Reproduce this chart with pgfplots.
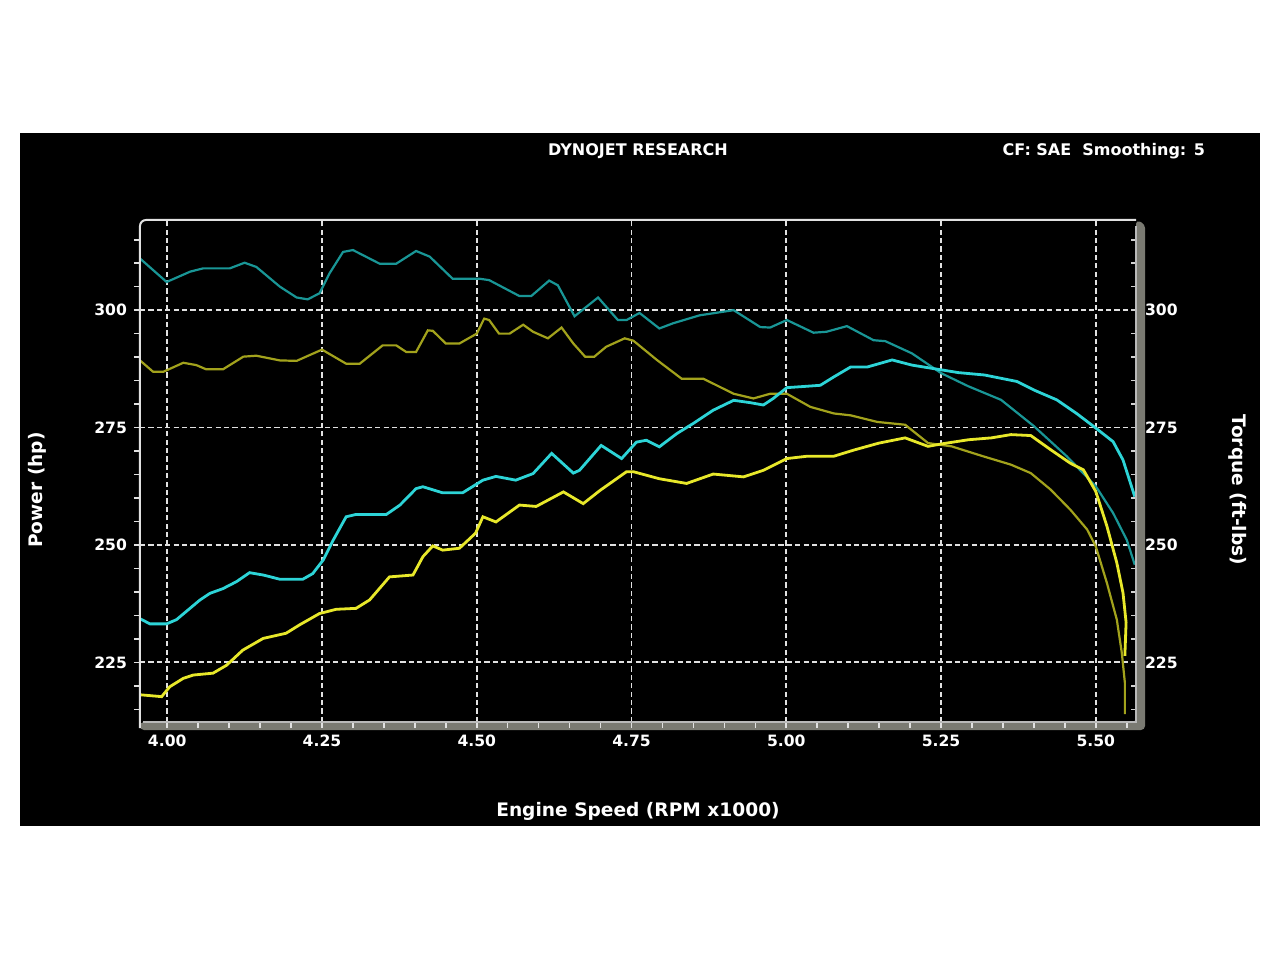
\documentclass[border=0pt]{standalone}
\usepackage{fontspec}
\setmainfont{DejaVu Sans}
\usepackage{pgfplots}
\pgfplotsset{compat=1.18}
\definecolor{darkteal}{RGB}{25,150,150}
\definecolor{brightcyan}{RGB}{45,212,215}
\definecolor{olivec}{RGB}{162,162,28}
\definecolor{brightyel}{RGB}{232,232,42}
\definecolor{bargray}{RGB}{122,122,114}
\definecolor{gridc}{RGB}{225,225,225}

\pgfplotstableread{
x y
3.956 311.0
3.999 306.0
4.037 308.2
4.058 308.9
4.101 308.9
4.125 310.1
4.144 309.2
4.182 305.0
4.209 302.7
4.227 302.3
4.246 303.6
4.262 307.8
4.284 312.4
4.300 312.8
4.343 309.9
4.370 309.9
4.402 312.6
4.424 311.4
4.461 306.7
4.504 306.7
4.520 306.4
4.569 303.0
4.588 303.0
4.617 306.3
4.631 305.3
4.658 298.7
4.696 302.7
4.728 297.9
4.742 297.9
4.763 299.4
4.795 296.1
4.817 297.2
4.860 298.9
4.915 300.0
4.958 296.4
4.974 296.3
5.001 297.9
5.044 295.2
5.065 295.4
5.098 296.6
5.141 293.6
5.160 293.4
5.203 290.8
5.250 286.6
5.294 283.8
5.347 280.9
5.400 275.3
5.453 268.9
5.500 262.5
5.528 256.8
5.550 251.1
5.563 245.8
}\tealdata

\pgfplotstableread{
x y
3.956 289.3
3.977 286.9
3.994 286.9
4.026 288.8
4.047 288.3
4.063 287.4
4.090 287.4
4.123 290.1
4.144 290.3
4.182 289.3
4.209 289.2
4.250 291.6
4.289 288.6
4.311 288.6
4.348 292.5
4.370 292.5
4.386 291.1
4.402 291.1
4.421 295.7
4.429 295.6
4.450 292.9
4.472 292.9
4.500 295.0
4.512 298.2
4.520 297.9
4.536 295.0
4.553 295.0
4.575 296.9
4.591 295.4
4.615 294.0
4.637 296.3
4.656 292.9
4.675 290.1
4.690 290.1
4.709 292.2
4.739 294.0
4.753 293.5
4.791 289.4
4.831 285.4
4.866 285.4
4.915 282.2
4.947 281.2
4.974 282.2
5.001 282.2
5.039 279.4
5.077 278.0
5.104 277.6
5.147 276.2
5.192 275.6
5.229 271.7
5.250 271.3
5.267 271.0
5.320 268.8
5.363 267.1
5.395 265.3
5.427 261.8
5.459 257.5
5.486 253.3
5.500 249.7
5.518 241.9
5.534 234.1
5.542 227.1
5.547 220.7
5.547 214.0
}\olivedata

\pgfplotstableread{
x y
3.956 234.3
3.972 233.2
3.999 233.2
4.015 234.1
4.053 238.3
4.069 239.7
4.090 240.7
4.112 242.2
4.133 244.1
4.155 243.6
4.182 242.7
4.219 242.7
4.235 243.9
4.252 246.8
4.268 251.0
4.289 256.0
4.305 256.5
4.354 256.5
4.376 258.5
4.402 262.0
4.413 262.4
4.445 261.1
4.477 261.1
4.510 263.8
4.531 264.6
4.563 263.8
4.591 265.2
4.621 269.5
4.656 265.3
4.666 265.9
4.701 271.2
4.734 268.4
4.758 271.9
4.774 272.3
4.795 270.9
4.823 273.7
4.850 275.9
4.882 278.7
4.915 280.8
4.942 280.3
4.963 279.8
4.979 281.2
5.001 283.5
5.023 283.7
5.055 284.0
5.077 285.8
5.104 287.9
5.131 287.9
5.171 289.4
5.203 288.3
5.250 287.3
5.278 286.7
5.320 286.2
5.373 284.8
5.400 283.0
5.437 280.9
5.469 278.0
5.500 274.9
5.528 272.0
5.544 268.1
5.563 260.3
}\cyandata

\pgfplotstableread{
x y
3.956 218.1
3.991 217.7
4.004 219.8
4.026 221.6
4.042 222.3
4.074 222.7
4.096 224.4
4.122 227.6
4.155 230.1
4.192 231.2
4.214 233.0
4.246 235.4
4.273 236.3
4.305 236.5
4.327 238.3
4.359 243.2
4.397 243.6
4.413 247.5
4.429 249.8
4.445 248.9
4.472 249.3
4.498 252.5
4.510 256.0
4.531 254.9
4.569 258.5
4.596 258.2
4.640 261.3
4.672 258.8
4.699 261.6
4.742 265.6
4.753 265.6
4.795 264.1
4.839 263.1
4.882 265.1
4.931 264.5
4.963 265.9
5.001 268.4
5.034 268.9
5.077 268.9
5.109 270.2
5.150 271.7
5.192 272.8
5.229 271.0
5.250 271.5
5.294 272.4
5.331 272.8
5.363 273.5
5.395 273.3
5.427 270.3
5.459 267.4
5.480 266.0
5.500 261.4
5.518 254.0
5.534 246.2
5.544 239.8
5.549 233.5
5.547 226.4
}\yeldata

\begin{document}
\begin{tikzpicture}
\fill[white] (-70pt,-118.5pt) rectangle (570pt,361pt);
\fill[black] (-60pt,-52pt) rectangle (560pt,294.5pt);
% 3D frame bar (right and bottom)
\fill[bargray, rounded corners=2pt] (0pt,-4pt) -- (502.5pt,-4pt) -- (502.5pt,249pt) -- (498pt,251pt) -- (498pt,0pt) -- (0pt,0pt) -- cycle;

\begin{axis}[
  at={(0pt,0pt)}, anchor=south west,
  scale only axis, width=498pt, height=251pt,
  xmin=3.956, xmax=5.565, ymin=212.3, ymax=319.2,
  axis line style={draw=none},
  xtick={4,4.25,4.5,4.75,5,5.25,5.5},
  ytick={225,250,275,300},
  minor xtick={4.05,4.1,4.15,4.2,4.3,4.35,4.4,4.45,4.55,4.6,4.65,4.7,4.8,4.85,4.9,4.95,5.05,5.1,5.15,5.2,5.3,5.35,5.4,5.45,5.55},
  minor ytick={215,220,230,235,240,245,255,260,265,270,280,285,290,295,305,310,315},
  xtick pos=left, ytick pos=left,
  tick align=outside,
  major tick length=3pt, minor tick length=3pt,
  every tick/.style={gridc, line width=0.8pt},
  grid=major,
  major grid style={gridc, line width=0.9pt, dash pattern=on 2.6pt off 1.6pt},
  ticklabel style={white, font=\bfseries\fontsize{7.8}{9}\selectfont},
  xticklabel style={/pgf/number format/.cd, fixed, fixed zerofill, precision=2, assume math mode=true},
  yticklabel style={/pgf/number format/.cd, fixed, precision=0, assume math mode=true},
  xlabel={Engine Speed (RPM x1000)},
  ylabel={Power (hp)},
  label style={white, font=\bfseries\fontsize{9.3}{11}\selectfont},
  xlabel style={at={(axis description cs:0.5,-0.1773)}, anchor=center},
  ylabel style={at={(axis description cs:-0.1034,0.4622)}, anchor=center},
]
\addplot[darkteal, line width=1.1pt] table[x=x,y=y] {\tealdata};
\addplot[olivec, line width=1.1pt] table[x=x,y=y] {\olivedata};
\addplot[brightcyan, line width=1.4pt] table[x=x,y=y] {\cyandata};
\addplot[brightyel, line width=1.4pt] table[x=x,y=y] {\yeldata};
\end{axis}

\begin{axis}[
  at={(0pt,0pt)}, anchor=south west,
  scale only axis, width=498pt, height=251pt,
  xmin=3.956, xmax=5.565, ymin=212.3, ymax=319.2,
  hide x axis,
  axis y line*=right,
  axis line style={draw=none},
  ytick={225,250,275,300},
  minor ytick={215,220,230,235,240,245,255,260,265,270,280,285,290,295,305,310,315},
  tick align=inside,
  major tick length=2.5pt, minor tick length=2.5pt,
  every tick/.style={gray!35!white, line width=0.8pt},
  yticklabel style={white, font=\bfseries\fontsize{7.8}{9}\selectfont, xshift=1pt, /pgf/number format/.cd, fixed, precision=0, assume math mode=true},
  ylabel={Torque (ft-lbs)},
  ylabel style={white, font=\bfseries\fontsize{9.3}{11}\selectfont, at={(axis description cs:1.1024,0.4622)}, anchor=center, rotate=180},
]
\end{axis}

% frame lines
\draw[gridc, line width=1pt, rounded corners=3pt] (0pt,-3pt) -- (0pt,251pt) -- (498pt,251pt);
\draw[gray!55!white, line width=0.7pt] (1.5pt,0pt) -- (498pt,0pt) -- (498pt,248pt);
\node[white, font=\bfseries\fontsize{8}{9}\selectfont] at (249pt,285.5pt) {DYNOJET RESEARCH};
\node[white, anchor=east, font=\bfseries\fontsize{8}{9}\selectfont] at (536pt,285.5pt) {CF: SAE\ \ Smoothing: 5};
\end{tikzpicture}
\end{document}
